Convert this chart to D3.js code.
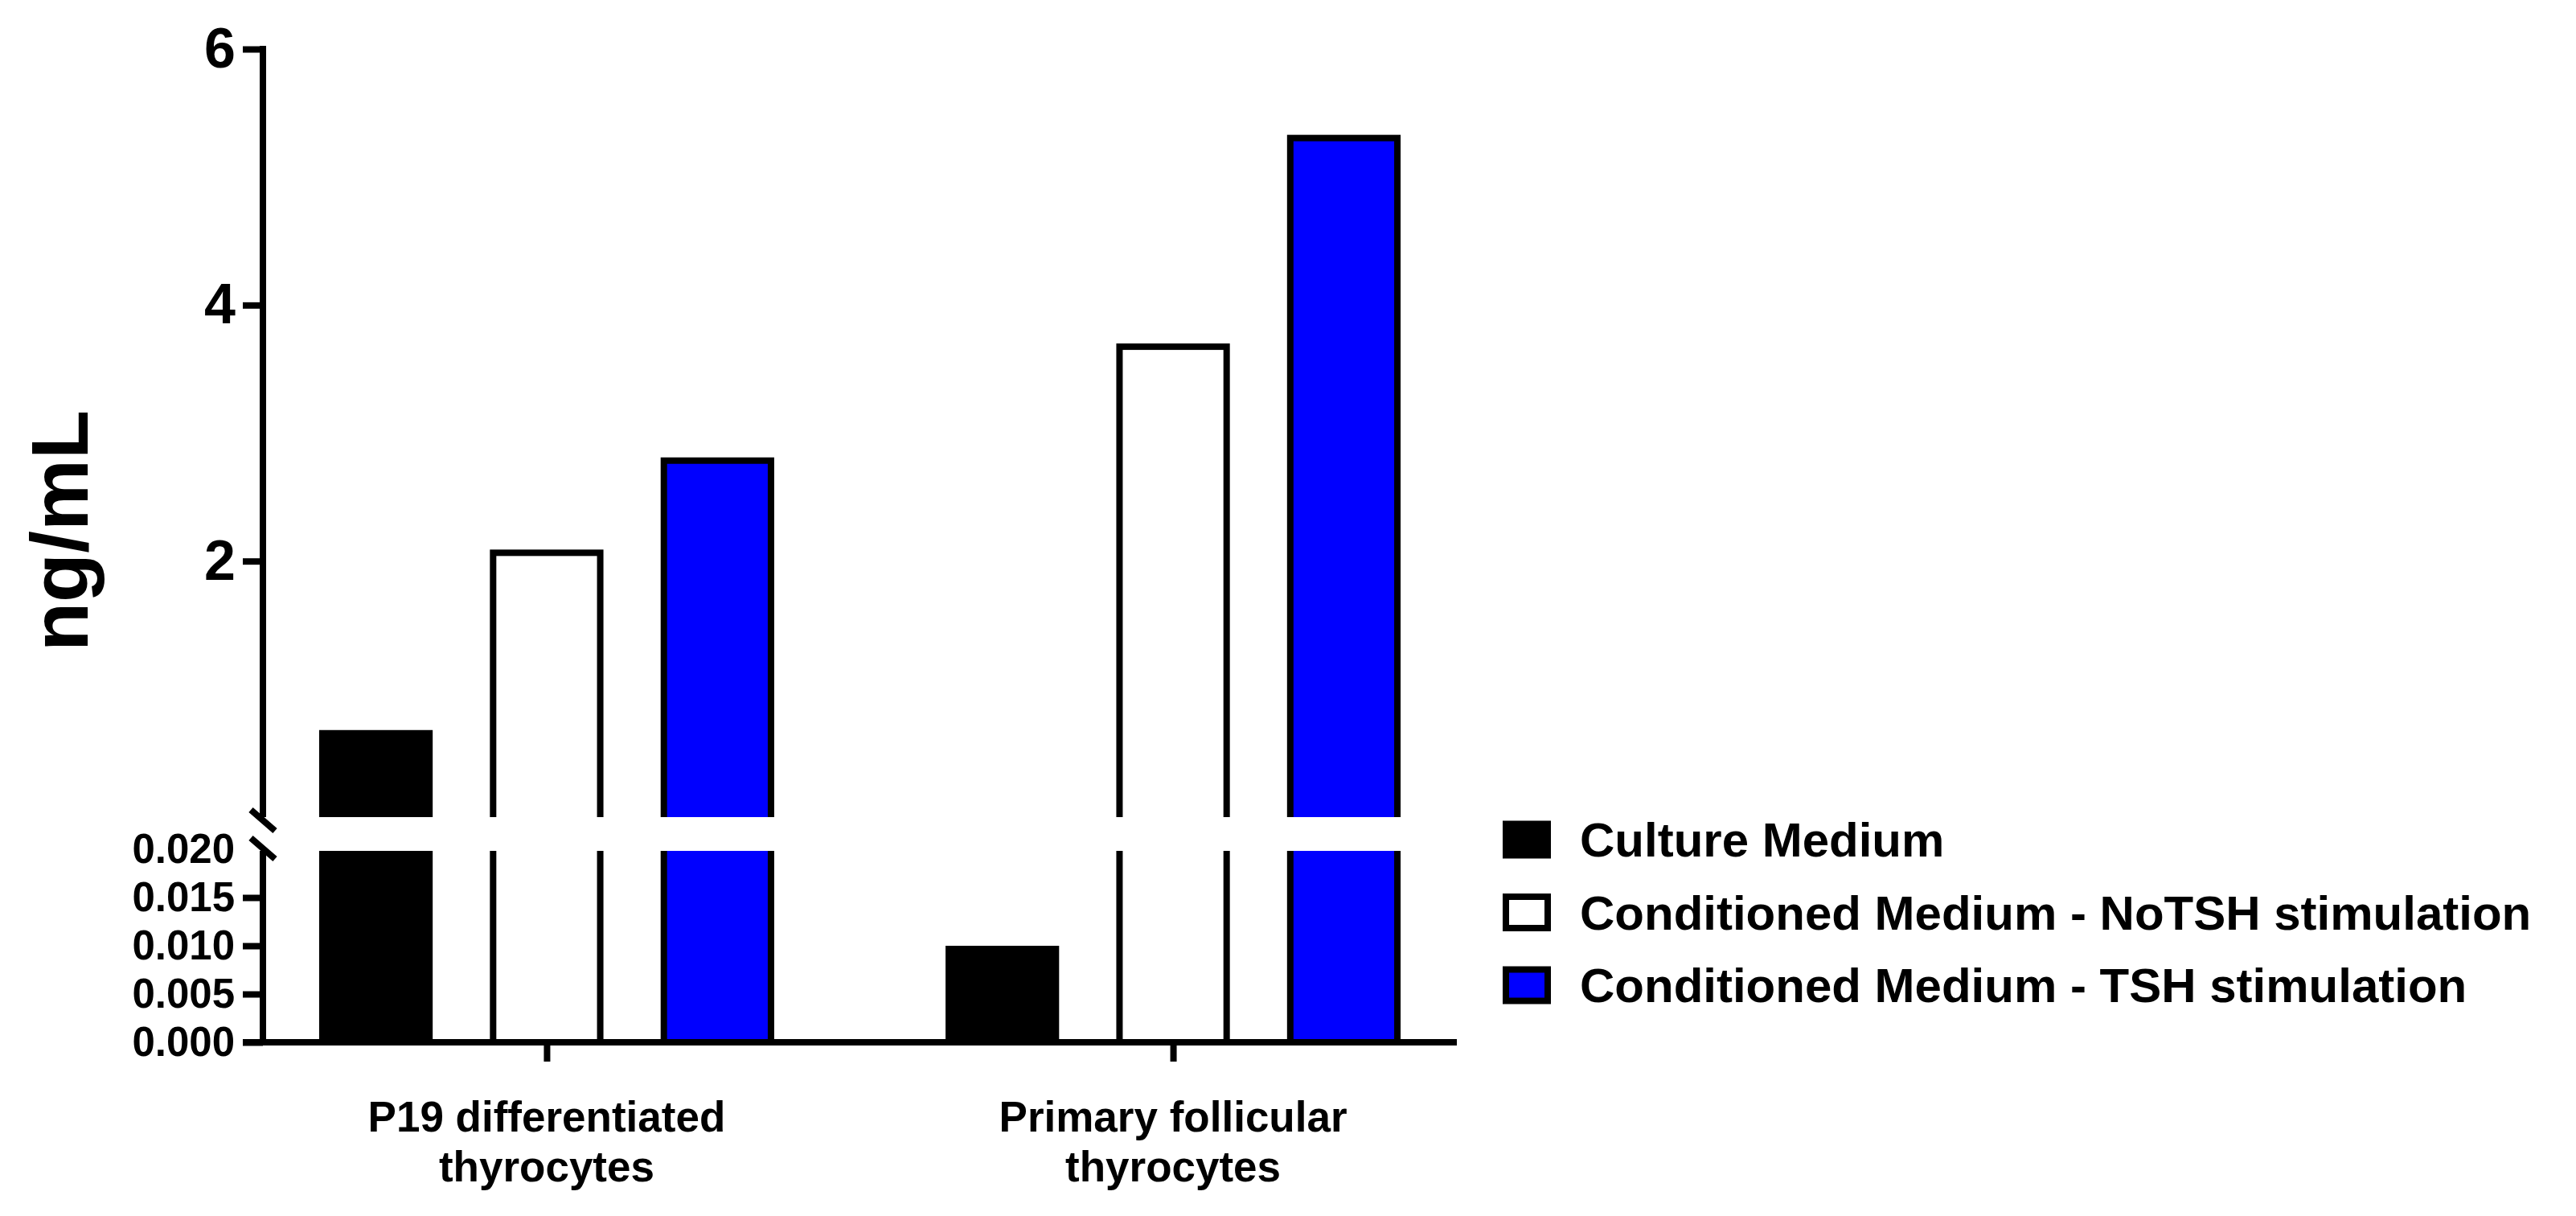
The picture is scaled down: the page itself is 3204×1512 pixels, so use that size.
<!DOCTYPE html>
<html>
<head>
<meta charset="utf-8">
<script src="https://cdn.jsdelivr.net/npm/d3@7"></script>
<style>
  body { margin: 0; background: #fff; }
  svg text { font-family: "Liberation Sans", Arial, sans-serif; font-weight: bold; fill: #000; }
</style>
</head>
<body>
<svg id="chart" width="3204" height="1512"></svg>
<script>
// Data
const categories = ["P19 differentiated thyrocytes", "Primary follicular thyrocytes"];
const categoryLines = [["P19 differentiated", "thyrocytes"], ["Primary follicular", "thyrocytes"]];
const series = ["Culture Medium", "Conditioned Medium - NoTSH stimulation", "Conditioned Medium - TSH stimulation"];
const seriesFill = ["#000000", "#ffffff", "#0000ff"];
const cultureMedium = [0.68, 0.010];
const noTSH = [2.09, 3.70];
const withTSH = [2.81, 5.33];
const upperTicks = [2, 4, 6];
const lowerTicks = [0, 0.005, 0.010, 0.015, 0.020];

const values = [cultureMedium, noTSH, withTSH];

// layout
const axisX = 327, plotRight = 1812;
const baseY = 1296, lowerTop = 1056, upperBottom = 1016, upperTop = 61;
const sw = 8;   // line width used everywhere

const svg = d3.select("svg#chart");

// scales
const yUpper = d3.scaleLinear().domain([0, 6]).range([upperBottom, upperTop]);
const yLower = d3.scaleLinear().domain([0, 0.02]).range([baseY, lowerTop]);

const x0 = d3.scalePoint().domain(categories).range([axisX, plotRight]).padding(0.453);
const x1 = d3.scaleBand().domain(series).range([-283, 283]).paddingInner(0.335).paddingOuter(0);

// clip regions for the broken axis
const defs = svg.append("defs");
defs.append("clipPath").attr("id", "clipUpper")
  .append("rect").attr("x", 0).attr("y", 0).attr("width", 3204).attr("height", upperBottom);
defs.append("clipPath").attr("id", "clipLower")
  .append("rect").attr("x", 0).attr("y", yLower(0.02) + 2).attr("width", 3204).attr("height", 400);

// flatten to one record per bar
let bars = [];
categories.forEach((c, ci) => {
  series.forEach((s, si) => {
    bars.push({ cat: c, ser: s, value: values[si][ci], fill: seriesFill[si] });
  });
});

function barX(d) { return x0(d.cat) + x1(d.ser) + sw / 2; }
let barW = x1.bandwidth() - sw;

// upper segment (only bars that pass the break)
svg.append("g").attr("clip-path", "url(#clipUpper)")
  .selectAll("rect")
  .data(bars.filter(d => d.value > 0.02))
  .join("rect")
  .attr("x", barX)
  .attr("y", d => yUpper(d.value) + sw / 2)
  .attr("width", barW)
  .attr("height", d => upperBottom + 30 - yUpper(d.value))
  .attr("fill", d => d.fill)
  .attr("stroke", "#000")
  .attr("stroke-width", sw);

// lower segment
function lowerY(d) { return d.value > 0.02 ? yLower(0.02) - 20 : yLower(d.value) + sw / 2; }

svg.append("g").attr("clip-path", "url(#clipLower)")
  .selectAll("rect")
  .data(bars)
  .join("rect")
  .attr("x", barX)
  .attr("y", lowerY)
  .attr("width", barW)
  .attr("height", d => baseY - lowerY(d))
  .attr("fill", d => d.fill)
  .attr("stroke", "#000")
  .attr("stroke-width", sw);

// axes
function styleAxis(g, fontSize) {
  g.select(".domain").attr("stroke", "#000").attr("stroke-width", sw);
  g.selectAll(".tick line").attr("stroke", "#000").attr("stroke-width", sw);
  g.selectAll(".tick text").style("font-size", fontSize + "px");
}

const gUpper = svg.append("g")
  .attr("transform", `translate(${axisX},0)`)
  .call(d3.axisLeft(yUpper).tickValues(upperTicks).tickSize(25).tickSizeOuter(0).tickPadding(9).tickFormat(d3.format("d")));
styleAxis(gUpper, 70);
gUpper.select(".domain").attr("d", `M0,${yUpper(6) - sw / 2}V${upperBottom}`);

const gLower = svg.append("g")
  .attr("transform", `translate(${axisX},0)`)
  .call(d3.axisLeft(yLower).tickValues(lowerTicks).tickSize(25).tickSizeOuter(0).tickPadding(10).tickFormat(d3.format(".3f")));
styleAxis(gLower, 51);
gLower.select(".domain").attr("d", `M0,${baseY}V${yLower(0.02) + 2}`);
gLower.selectAll(".tick").filter(d => d === 0.02).select("line").remove();

// x axis
const gX = svg.append("g")
  .attr("transform", `translate(0,${baseY})`)
  .call(d3.axisBottom(x0).tickSize(24).tickSizeOuter(0).tickFormat(""));
styleAxis(gX, 53);
gX.select(".domain").attr("d", `M${axisX - 25},0H${plotRight}`);

// category labels on two lines
svg.append("g").selectAll("text")
  .data(categories)
  .join("text")
  .attr("text-anchor", "middle")
  .style("font-size", "53px")
  .each(function (c, i) {
    d3.select(this).selectAll("tspan")
      .data(categoryLines[i])
      .join("tspan")
      .attr("x", x0(c))
      .attr("y", (t, j) => 1407 + j * 62)
      .text(t => t);
  });

// break marks
const breaks = [yUpper(0) + 4, yLower(0.02) - 1];
svg.append("g").selectAll("line")
  .data(breaks)
  .join("line")
  .attr("x1", axisX - 15).attr("x2", axisX + 15)
  .attr("y1", d => d - 13).attr("y2", d => d + 13)
  .attr("stroke", "#000").attr("stroke-width", sw);

// y title
svg.append("text")
  .attr("transform", "translate(109,660) rotate(-90)")
  .attr("text-anchor", "middle")
  .style("font-size", "100px")
  .text("ng/mL");

// legend
const legendY = d3.scalePoint().domain(series).range([1044, 1225]);
const legend = svg.append("g").selectAll("g")
  .data(series)
  .join("g")
  .attr("transform", d => `translate(1869,${legendY(d)})`);

legend.append("rect")
  .attr("x", sw / 2).attr("y", -23.5 + sw / 2)
  .attr("width", 60 - sw).attr("height", 47 - sw)
  .attr("fill", (d, i) => seriesFill[i])
  .attr("stroke", "#000").attr("stroke-width", sw);

legend.append("text")
  .attr("x", 96)
  .attr("dy", "0.35em")
  .style("font-size", "60px")
  .text(d => d);
</script>
</body>
</html>
